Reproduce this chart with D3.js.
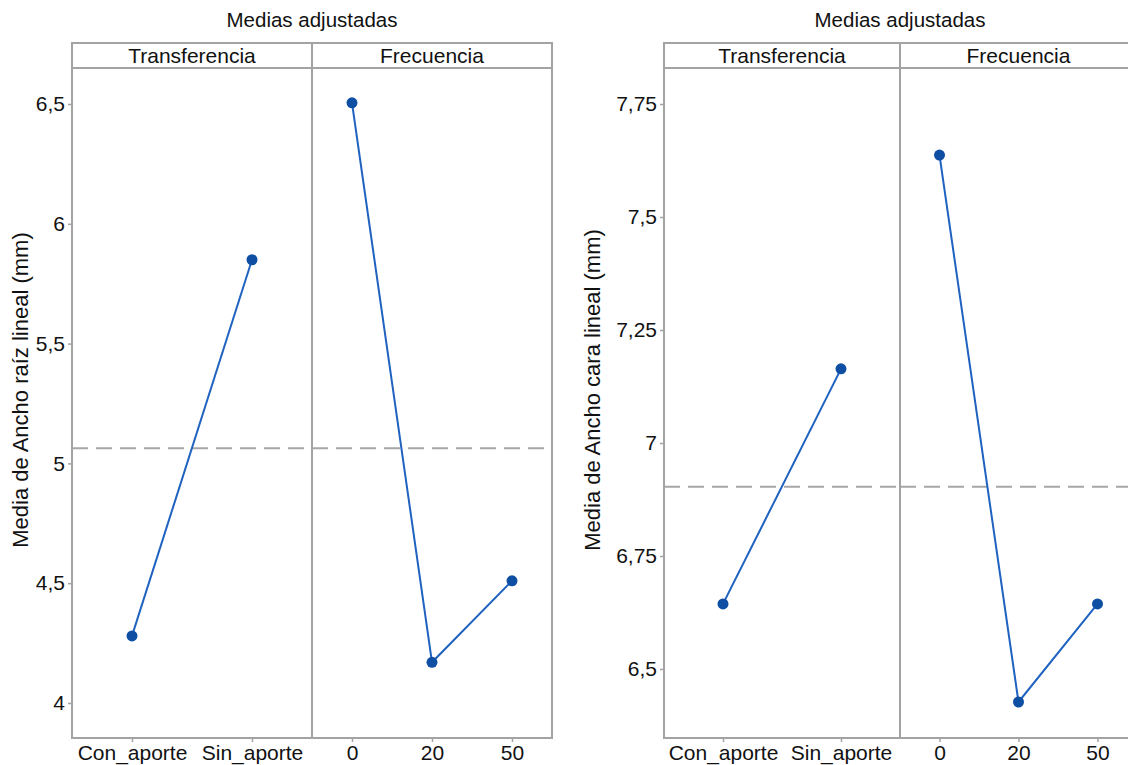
<!DOCTYPE html>
<html>
<head>
<meta charset="utf-8">
<script src="https://cdn.jsdelivr.net/npm/d3@7/dist/d3.min.js"></script>
<style>
  html, body { margin: 0; padding: 0; background: #fff; }
  svg { display: block; font-family: "Liberation Sans", Arial, Helvetica, sans-serif; }
</style>
</head>
<body>
<svg id="chart" width="1128" height="765"></svg>
<script>
// ---- Data ----
const chartTitle = "Medias adjustadas";
const panelNames = ["Transferencia", "Frecuencia"];
const transferCategories = ["Con_aporte", "Sin_aporte"];
const frecuenciaCategories = ["0", "20", "50"];

// Left chart: Media de Ancho raíz lineal (mm)
const raizTitle = "Media de Ancho raíz lineal (mm)";
const raizTransfer = [4.28, 5.85];
const raizFrecuencia = [6.505, 4.17, 4.51];
const raizMean = 5.063;
const raizTicks = [4, 4.5, 5, 5.5, 6, 6.5];
const raizTickLabels = ["4", "4,5", "5", "5,5", "6", "6,5"];

// Right chart: Media de Ancho cara lineal (mm)
const caraTitle = "Media de Ancho cara lineal (mm)";
const caraTransfer = [6.644, 7.164];
const caraFrecuencia = [7.637, 6.427, 6.644];
const caraMean = 6.903;
const caraTicks = [6.5, 6.75, 7, 7.25, 7.5, 7.75];
const caraTickLabels = ["6,5", "6,75", "7", "7,25", "7,5", "7,75"];

const svg = d3.select("#chart");
const borderColor = "#a3a3a3";
const lineColor = "#1f62c0";
const markerColor = "#0f4fa3";
const fs = 21;

function drawChart(cfg) {
  const g = svg.append("g");
  const top = 43, stripH = 25, bottom = 738;
  const plotTop = top + stripH;
  const y = d3.scaleLinear().domain(cfg.yDomain).range([cfg.yRange[0], cfg.yRange[1]]);

  // title
  g.append("text").attr("x", cfg.xDiv).attr("y", 27)
    .attr("text-anchor", "middle").attr("font-size", 20.5).attr("fill", "#111")
    .text(chartTitle);

  // y axis title
  g.append("text")
    .attr("transform", `translate(${cfg.yTitleX},390) rotate(-90)`)
    .attr("text-anchor", "middle").attr("font-size", 22).attr("fill", "#111")
    .text(cfg.yTitle);

  // y axis ticks
  const yAxis = d3.axisLeft(y).tickValues(cfg.ticks).tickSize(4).tickPadding(3)
    .tickFormat((d, i) => cfg.tickLabels[i]);
  const ya = g.append("g").attr("transform", `translate(${cfg.x0},0)`).call(yAxis);
  ya.select(".domain").remove();
  ya.selectAll(".tick line").attr("stroke", borderColor).attr("stroke-width", 1.5);
  ya.selectAll(".tick text").attr("font-size", fs).attr("fill", "#111")
    .attr("font-family", "Liberation Sans, Arial, sans-serif");

  const panels = [
    { x0: cfg.x0, x1: cfg.xDiv, cats: transferCategories, vals: cfg.transfer, name: panelNames[0] },
    { x0: cfg.xDiv, x1: cfg.x1, cats: frecuenciaCategories, vals: cfg.frecuencia, name: panelNames[1] }
  ];

  panels.forEach(p => {
    const x = d3.scalePoint().domain(p.cats).range([p.x0, p.x1]).padding(0.5);
    // mean reference line
    g.append("line").attr("x1", p.x0).attr("x2", p.x1)
      .attr("y1", y(cfg.mean)).attr("y2", y(cfg.mean))
      .attr("stroke", "#a6a6a6").attr("stroke-width", 2).attr("stroke-dasharray", "16,8");
    // x axis
    const xAxis = d3.axisBottom(x).tickSize(4).tickPadding(3);
    const xa = g.append("g").attr("transform", `translate(0,${bottom})`).call(xAxis);
    xa.select(".domain").remove();
    xa.selectAll(".tick line").attr("stroke", borderColor).attr("stroke-width", 1.5);
    xa.selectAll(".tick text").attr("font-size", fs).attr("fill", "#111")
      .attr("font-family", "Liberation Sans, Arial, sans-serif");
    // line
    const line = d3.line().x((d, i) => x(p.cats[i])).y(d => y(d));
    g.append("path").datum(p.vals).attr("d", line)
      .attr("fill", "none").attr("stroke", lineColor).attr("stroke-width", 2);
    g.selectAll(null).data(p.vals).enter().append("circle")
      .attr("cx", (d, i) => x(p.cats[i])).attr("cy", d => y(d)).attr("r", 5.5)
      .attr("fill", markerColor);
    // strip label
    g.append("text").attr("x", (p.x0 + p.x1) / 2).attr("y", top + 20)
      .attr("text-anchor", "middle").attr("font-size", fs).attr("fill", "#111")
      .text(p.name);
  });

  // borders
  g.append("rect").attr("x", cfg.x0).attr("y", top).attr("width", cfg.x1 - cfg.x0)
    .attr("height", bottom - top).attr("fill", "none").attr("stroke", borderColor).attr("stroke-width", 2);
  g.append("line").attr("x1", cfg.x0).attr("x2", cfg.x1).attr("y1", plotTop).attr("y2", plotTop)
    .attr("stroke", borderColor).attr("stroke-width", 2);
  g.append("line").attr("x1", cfg.xDiv).attr("x2", cfg.xDiv).attr("y1", top).attr("y2", bottom)
    .attr("stroke", borderColor).attr("stroke-width", 2);
}

drawChart({
  x0: 72, xDiv: 312, x1: 552, yTitleX: 28,
  yDomain: [4, 6.5], yRange: [703, 104],
  ticks: raizTicks, tickLabels: raizTickLabels, yTitle: raizTitle,
  transfer: raizTransfer, frecuencia: raizFrecuencia, mean: raizMean
});

drawChart({
  x0: 664, xDiv: 900, x1: 1137, yTitleX: 600,
  yDomain: [6.5, 7.75], yRange: [669, 104],
  ticks: caraTicks, tickLabels: caraTickLabels, yTitle: caraTitle,
  transfer: caraTransfer, frecuencia: caraFrecuencia, mean: caraMean
});
</script>
</body>
</html>
